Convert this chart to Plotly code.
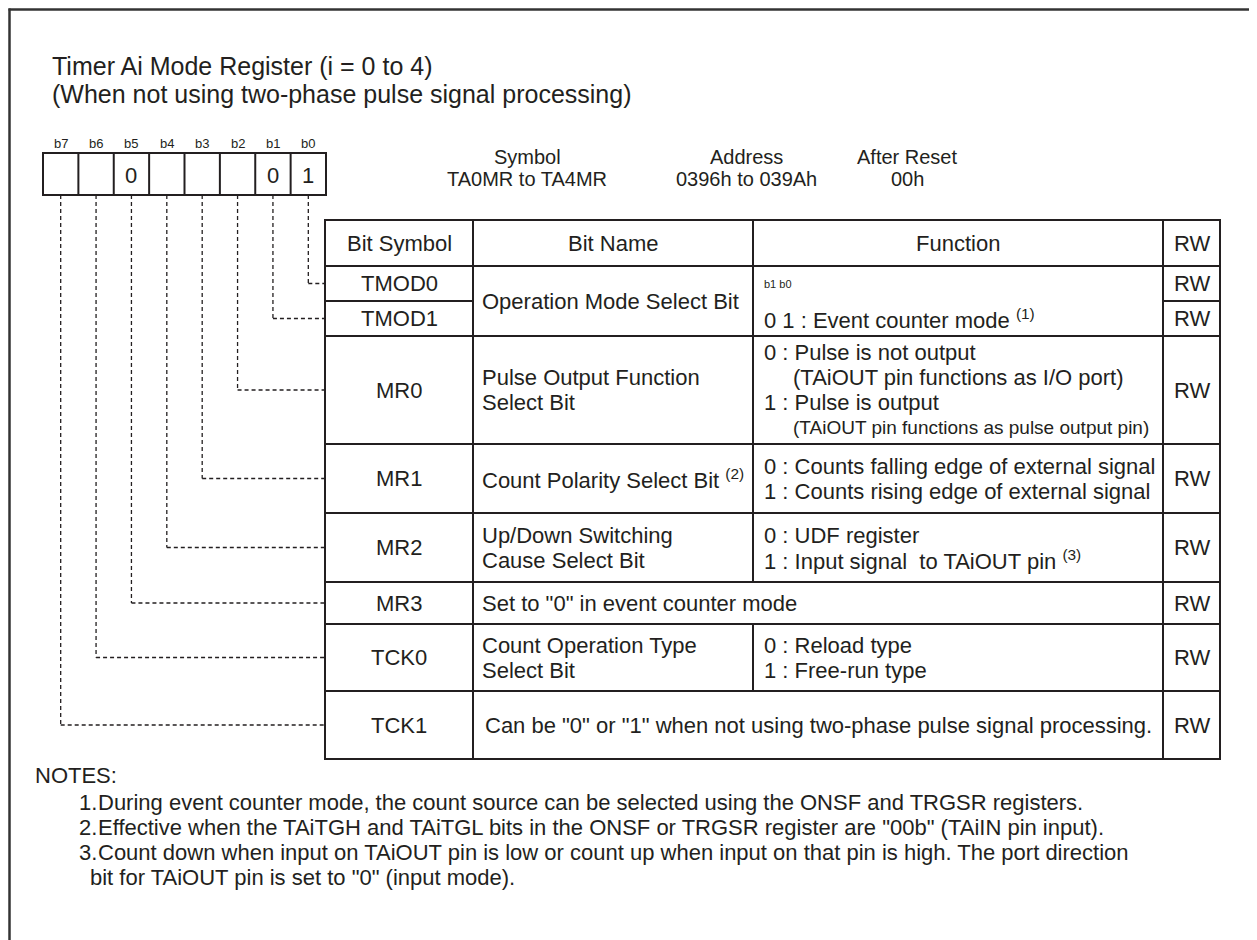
import plotly.graph_objects as go

# ---------------- data ----------------
TITLE_LINES = ["Timer Ai Mode Register (i = 0 to 4)",
               "(When not using two-phase pulse signal processing)"]
BIT_LABELS = ["b7", "b6", "b5", "b4", "b3", "b2", "b1", "b0"]
RESET_VALUES = ["", "", "0", "", "", "", "0", "1"]
INFO_TITLES = ["Symbol", "Address", "After Reset"]
INFO_VALUES = ["TA0MR to TA4MR", "0396h to 039Ah", "00h"]
COLUMN_HEADERS = ["Bit Symbol", "Bit Name", "Function", "RW"]
BIT_SYMBOLS = ["TMOD0", "TMOD1", "MR0", "MR1", "MR2", "MR3", "TCK0", "TCK1"]
SYMBOL_BITS = ["b0", "b1", "b2", "b3", "b4", "b5", "b6", "b7"]
RW_VALUES = ["RW", "RW", "RW", "RW", "RW", "RW", "RW", "RW"]
# bit-name cells: (first row, last row, lines, merged with function column)
NAME_CELLS = [
    (0, 1, ["Operation Mode Select Bit"], False),
    (2, 2, ["Pulse Output Function", "Select Bit"], False),
    (3, 3, ["Count Polarity Select Bit <sup>(2)</sup>"], False),
    (4, 4, ["Up/Down Switching", "Cause Select Bit"], False),
    (5, 5, ['Set to "0" in event counter mode'], True),
    (6, 6, ["Count Operation Type", "Select Bit"], False),
    (7, 7, ['Can be "0" or "1" when not using two-phase pulse signal processing.'], True),
]
# function cells: (first row, last row, lines as (text, indent, size))
FUNC_CELLS = [
    (2, 2, [("0 : Pulse is not output", 0, 22),
            ("(TAiOUT pin functions as I/O port)", 1, 22),
            ("1 : Pulse is output", 0, 22),
            ("(TAiOUT pin functions as pulse output pin)", 1, 19)]),
    (3, 3, [("0 : Counts falling edge of external signal", 0, 22),
            ("1 : Counts rising edge of external signal", 0, 22)]),
    (4, 4, [("0 : UDF register", 0, 22),
            ("1 : Input signal  to TAiOUT pin <sup>(3)</sup>", 0, 22)]),
    (6, 6, [("0 : Reload type", 0, 22),
            ("1 : Free-run type", 0, 22)]),
]
TMOD_FUNC = ["b1 b0", "0 1 : Event counter mode <sup>(1)</sup>"]
NOTES_HEAD = "NOTES:"
NOTES = [
    ("1.", "During event counter mode, the count source can be selected using the ONSF and TRGSR registers."),
    ("2.", 'Effective when the TAiTGH and TAiTGL bits in the ONSF or TRGSR register are "00b" (TAiIN pin input).'),
    ("3.", "Count down when input on TAiOUT pin is low or count up when input on that pin is high. The port direction"),
    ("", 'bit for TAiOUT pin is set to "0" (input mode).'),
]

# ---------------- layout constants ----------------
W, H = 1257, 940
PAGE_MARGIN = 8          # default body margin of the html page
INK = "#231f20"
FONT = "Liberation Sans, Arial, sans-serif"
FRAME = 9.5
REG_X0, REG_X1, REG_Y0, REG_Y1 = 43, 326, 153, 195
COL_X = [325, 473, 753, 1163, 1220]
ROW_Y = [220, 266, 301, 336, 444, 513, 582, 624, 691, 759]
LINE_GAP = 25
TS = 22                  # table text size

shapes = []
ann = []


def line(x0, y0, x1, y1, w=2, dash=None, color=INK):
    d = dict(type="line", x0=x0, y0=y0, x1=x1, y1=y1, xref="x", yref="y",
             line=dict(color=color, width=w))
    if dash:
        d["line"]["dash"] = dash
    shapes.append(d)


def text(x, y, s, size=22, anchor="left", family=FONT):
    ann.append(dict(x=x, y=y, xref="x", yref="y", text=s, showarrow=False,
                    xanchor=anchor, yanchor="middle",
                    font=dict(family=family, size=size, color=INK)))


# outer frame (left + top)
line(FRAME - 1, FRAME, W + 5, FRAME, 2.5, color="#333333")
line(FRAME, FRAME - 1, FRAME, H + 5, 2.5, color="#333333")

# title
for i, t in enumerate(TITLE_LINES):
    text(50, 66 + 28 * i, t, 25)

# register box
cw = (REG_X1 - REG_X0) / len(BIT_LABELS)
shapes.append(dict(type="rect", x0=REG_X0, x1=REG_X1, y0=REG_Y0, y1=REG_Y1,
                   xref="x", yref="y", line=dict(color=INK, width=2)))
for i in range(1, len(BIT_LABELS)):
    line(REG_X0 + i * cw, REG_Y0, REG_X0 + i * cw, REG_Y1)
for i, (lab, val) in enumerate(zip(BIT_LABELS, RESET_VALUES)):
    cx = REG_X0 + (i + 0.5) * cw
    text(cx, 143, lab, 13, "center")
    if val:
        text(cx, 175, val, 22, "center")

# symbol / address / reset block
for i, (a, b) in enumerate(zip(INFO_TITLES, INFO_VALUES)):
    cx = [527, 746, 907][i]
    text(cx, 157, a, 20, "center")
    text(cx, 179, b, 20, "center")

# table frame
row_c = [(ROW_Y[i + 1] + ROW_Y[i + 2]) / 2 for i in range(len(BIT_SYMBOLS))]
shapes.append(dict(type="rect", x0=COL_X[0], x1=COL_X[-1], y0=ROW_Y[0], y1=ROW_Y[-1],
                   xref="x", yref="y", line=dict(color=INK, width=2)))
for x in COL_X[1:-1]:
    line(x, ROW_Y[0], x, ROW_Y[1])
line(COL_X[0], ROW_Y[1], COL_X[-1], ROW_Y[1])
hdr_cy = (ROW_Y[0] + ROW_Y[1]) / 2
for i, h in enumerate(COLUMN_HEADERS):
    text((COL_X[i] + COL_X[i + 1]) / 2, hdr_cy, h, TS, "center")

# symbol & RW columns: one cell per row
for r, (sym, rw) in enumerate(zip(BIT_SYMBOLS, RW_VALUES)):
    y1 = ROW_Y[r + 2]
    line(COL_X[0], y1, COL_X[1], y1)
    line(COL_X[3], y1, COL_X[4], y1)
    text((COL_X[0] + COL_X[1]) / 2, row_c[r], sym, TS, "center")
    text((COL_X[3] + COL_X[4]) / 2, row_c[r], rw, TS, "center")
line(COL_X[1], ROW_Y[1], COL_X[1], ROW_Y[-1])
line(COL_X[3], ROW_Y[1], COL_X[3], ROW_Y[-1])

# bit name cells
for r0, r1, lines, merged in NAME_CELLS:
    y0, y1 = ROW_Y[r0 + 1], ROW_Y[r1 + 2]
    line(COL_X[1], y1, COL_X[3], y1)
    if not merged:
        line(COL_X[2], y0, COL_X[2], y1)
    cy = (y0 + y1) / 2
    n = len(lines)
    for k, s in enumerate(lines):
        yy = cy + (k - (n - 1) / 2) * LINE_GAP
        if merged and r0 == len(BIT_SYMBOLS) - 1:
            text((COL_X[1] + COL_X[3]) / 2, yy, s, TS, "center")
        else:
            text(COL_X[1] + 7, yy, s, TS)

# function cells
for r0, r1, lines in FUNC_CELLS:
    cy = (ROW_Y[r0 + 1] + ROW_Y[r1 + 2]) / 2
    n = len(lines)
    for k, (s, ind, sz) in enumerate(lines):
        yy = cy + (k - (n - 1) / 2) * LINE_GAP
        text(COL_X[2] + 9 + ind * 29, yy, s, sz)
text(COL_X[2] + 9, row_c[0], TMOD_FUNC[0], 11)
text(COL_X[2] + 9, row_c[1], TMOD_FUNC[1], TS)

# dashed connectors from bits to rows
for r, b in enumerate(SYMBOL_BITS):
    i = BIT_LABELS.index(b)
    cx = REG_X0 + (i + 0.5) * cw
    line(cx, REG_Y1, cx, row_c[r], 1.3, "4px,3px")
    line(cx, row_c[r], COL_X[0], row_c[r], 1.3, "4px,3px")

# notes
NS = 22
text(33, 775, NOTES_HEAD, NS)
for k, (num, s) in enumerate(NOTES):
    yy = 802 + k * 25
    if num:
        text(77, yy, num, NS)
        text(96, yy, s, NS)
    else:
        text(88, yy, s, NS)

fig = go.Figure()
fig.update_layout(
    width=W - PAGE_MARGIN, height=H - PAGE_MARGIN,
    margin=dict(l=0, r=0, t=0, b=0),
    paper_bgcolor="white", plot_bgcolor="white",
    xaxis=dict(range=[PAGE_MARGIN, W], visible=False, fixedrange=True),
    yaxis=dict(range=[H, PAGE_MARGIN], visible=False, fixedrange=True),
    shapes=shapes, annotations=ann, showlegend=False,
)
fig.write_html("out.html")
